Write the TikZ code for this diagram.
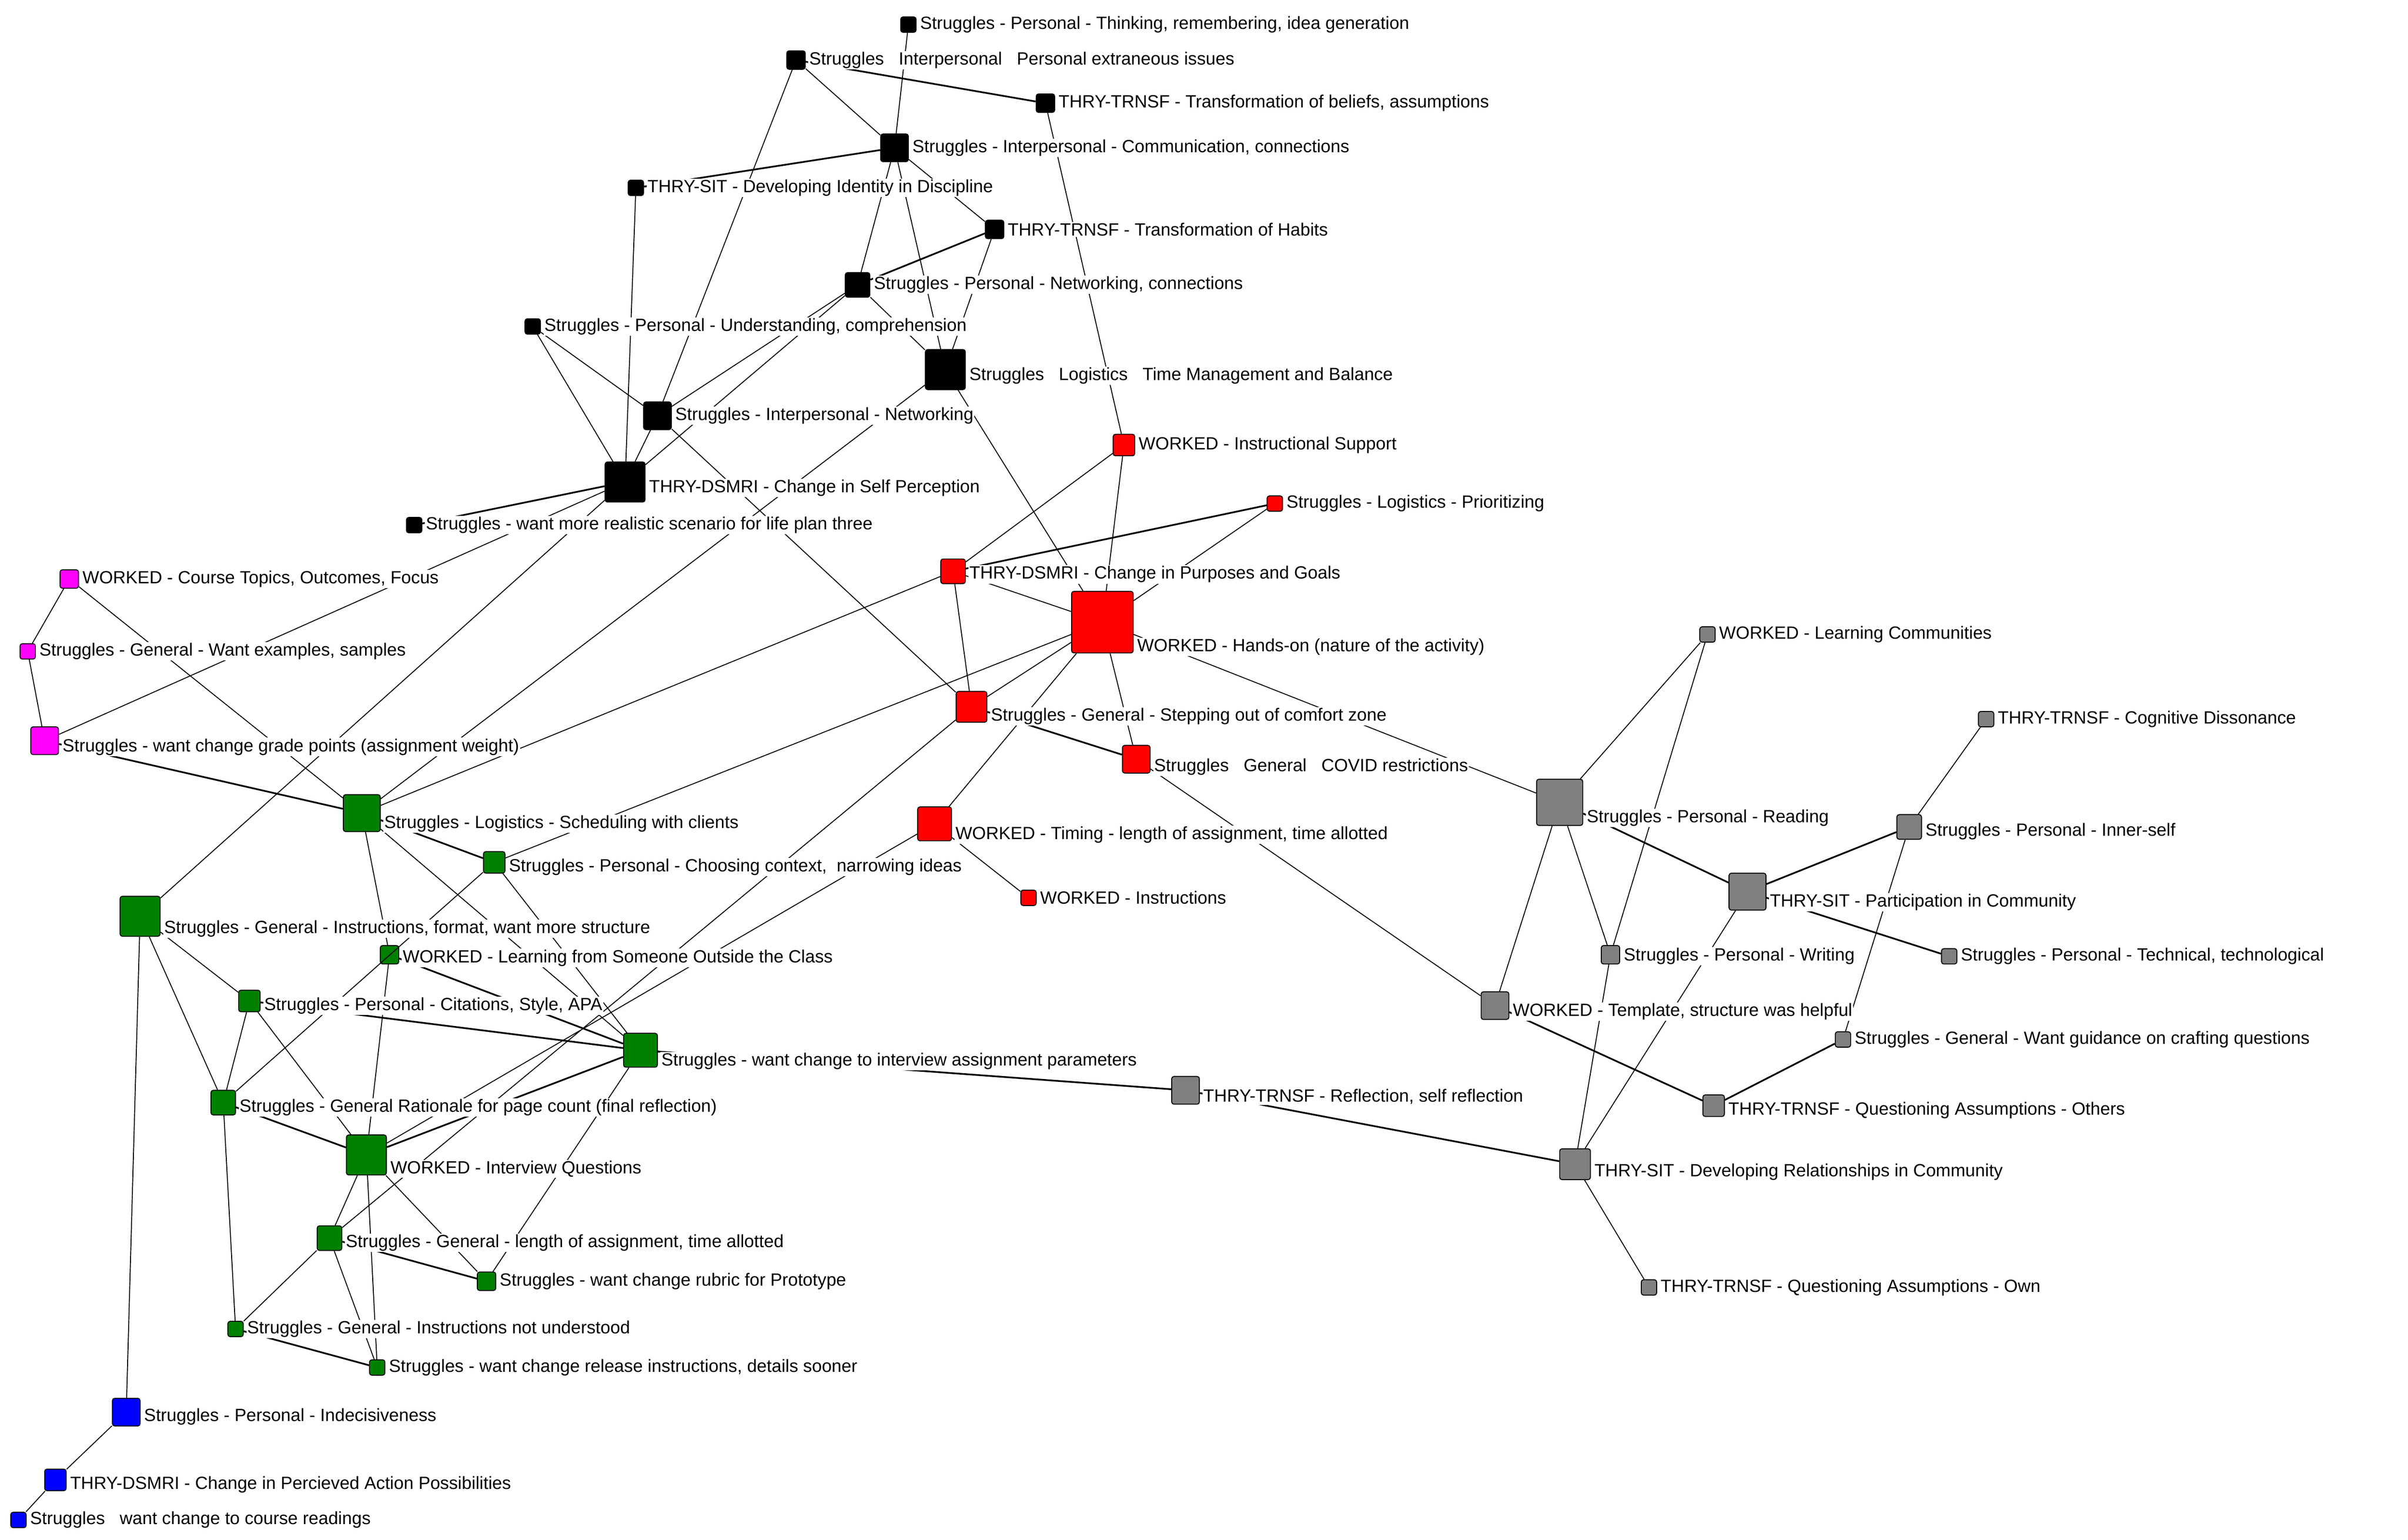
\documentclass[tikz,border=0pt]{standalone}
\usepackage{fontspec}
\setmainfont{Liberation Sans}
\definecolor{cblk}{RGB}{0,0,0}
\definecolor{cred}{RGB}{255,0,0}
\definecolor{cmag}{RGB}{255,0,255}
\definecolor{cgrn}{RGB}{0,128,0}
\definecolor{cblu}{RGB}{0,0,255}
\definecolor{cgry}{RGB}{128,128,128}
\begin{document}
\begin{tikzpicture}[x=1pt,y=-1pt,
  sq/.style={draw=black,line width=0.6pt,rounded corners=1.5pt,minimum size=#1,inner sep=0pt},
  lab/.style={anchor=west,fill=white,inner sep=0.6pt,font=\fontsize{11.5}{13}\selectfont},
  ed/.style={line width=0.6pt},
  hv/.style={line width=1.1pt}]
\useasboundingbox[fill=white] (0,0) rectangle (1564,1000);
% black
\node[sq=10pt,fill=cblk] (A1) at (590,16) {};
\node[sq=12pt,fill=cblk] (A2) at (517,39) {};
\node[sq=12pt,fill=cblk] (A3) at (679,67) {};
\node[sq=18pt,fill=cblk] (A4) at (581,96) {};
\node[sq=10pt,fill=cblk] (A5) at (413,122) {};
\node[sq=12pt,fill=cblk] (A6) at (646,149) {};
\node[sq=16pt,fill=cblk] (A7) at (557,185) {};
\node[sq=10pt,fill=cblk] (A8) at (346,212) {};
\node[sq=26pt,fill=cblk] (A9) at (614,240) {};
\node[sq=18pt,fill=cblk] (A10) at (427,270) {};
\node[sq=26pt,fill=cblk] (A11) at (406,313) {};
\node[sq=10pt,fill=cblk] (A12) at (269,341) {};
% red
\node[sq=14pt,fill=cred] (R1) at (730,289) {};
\node[sq=10pt,fill=cred] (R2) at (828,327) {};
\node[sq=16pt,fill=cred] (R3) at (619,371) {};
\node[sq=40pt,fill=cred] (R4) at (716,404) {};
\node[sq=20pt,fill=cred] (R5) at (631,459) {};
\node[sq=18pt,fill=cred] (R6) at (738,493) {};
\node[sq=22pt,fill=cred] (R7) at (607,535) {};
\node[sq=10pt,fill=cred] (R8) at (668,583) {};
% magenta
\node[sq=12pt,fill=cmag] (M1) at (45,376) {};
\node[sq=10pt,fill=cmag] (M2) at (18,423) {};
\node[sq=18pt,fill=cmag] (M3) at (29,481) {};
% green
\node[sq=24pt,fill=cgrn] (G1) at (235,528) {};
\node[sq=14pt,fill=cgrn] (G2) at (321,560) {};
\node[sq=26pt,fill=cgrn] (G3) at (91,595) {};
\node[sq=12pt,fill=cgrn] (G4) at (253,620) {};
\node[sq=14pt,fill=cgrn] (G5) at (162,650) {};
\node[sq=22pt,fill=cgrn] (G6) at (416,682) {};
\node[sq=16pt,fill=cgrn] (G7) at (145,716) {};
\node[sq=26pt,fill=cgrn] (G8) at (238,750) {};
\node[sq=16pt,fill=cgrn] (G9) at (214,804) {};
\node[sq=12pt,fill=cgrn] (G10) at (316,832) {};
\node[sq=10pt,fill=cgrn] (G11) at (153,863) {};
\node[sq=10pt,fill=cgrn] (G12) at (245,888) {};
% blue
\node[sq=18pt,fill=cblu] (B1) at (82,917) {};
\node[sq=14pt,fill=cblu] (B2) at (36,961) {};
\node[sq=10pt,fill=cblu] (B3) at (12,987) {};
% gray
\node[sq=10pt,fill=cgry] (Y1) at (1109,412) {};
\node[sq=10pt,fill=cgry] (Y2) at (1290,467) {};
\node[sq=30pt,fill=cgry] (Y3) at (1013,521) {};
\node[sq=16pt,fill=cgry] (Y4) at (1240,537) {};
\node[sq=24pt,fill=cgry] (Y5) at (1135,579) {};
\node[sq=12pt,fill=cgry] (Y6) at (1046,620) {};
\node[sq=10pt,fill=cgry] (Y7) at (1266,621) {};
\node[sq=18pt,fill=cgry] (Y8) at (971,653) {};
\node[sq=10pt,fill=cgry] (Y9) at (1197,675) {};
\node[sq=18pt,fill=cgry] (Y10) at (770,708) {};
\node[sq=14pt,fill=cgry] (Y11) at (1113,718) {};
\node[sq=20pt,fill=cgry] (Y12) at (1023,756) {};
\node[sq=10pt,fill=cgry] (Y13) at (1071,836) {};
% edges
\draw[ed] (A1)--(A4);
\draw[ed] (A2)--(A4); \draw[hv] (A2)--(A3); \draw[ed] (A2)--(A10);
\draw[hv] (A4)--(A5); \draw[ed] (A4)--(A7); \draw[ed] (A4)--(A9); \draw[ed] (A4)--(A6);
\draw[ed] (A3)--(R1); \draw[ed] (A5)--(A11);
\draw[hv] (A6)--(A7); \draw[ed] (A6)--(A9);
\draw[ed] (A7)--(A10); \draw[ed] (A7)--(A11); \draw[ed] (A7)--(A9);
\draw[ed] (A8)--(A10); \draw[ed] (A8)--(A11);
\draw[ed] (A9)--(R4); \draw[ed] (A9)--(G1);
\draw[ed] (A10)--(A11); \draw[ed] (A10)--(R5);
\draw[hv] (A11)--(A12); \draw[ed] (A11)--(M3); \draw[ed] (A11)--(G3);
\draw[ed] (R1)--(R3); \draw[ed] (R1)--(R4);
\draw[hv] (R2)--(R3); \draw[ed] (R2)--(R4);
\draw[ed] (R3)--(R4); \draw[ed] (R3)--(R5); \draw[ed] (R3)--(G1);
\draw[ed] (R4)--(Y3); \draw[ed] (R4)--(R5); \draw[ed] (R4)--(R6); \draw[ed] (R4)--(G2); \draw[ed] (R4)--(R7);
\draw[hv] (R5)--(R6); \draw[ed] (R5)--(G9);
\draw[ed] (R6)--(Y8); \draw[ed] (R7)--(R8); \draw[ed] (R7)--(G8);
\draw[ed] (M1)--(M2); \draw[ed] (M1)--(G1); \draw[ed] (M2)--(M3); \draw[hv] (M3)--(G1);
\draw[hv] (G1)--(G2); \draw[ed] (G1)--(G4); \draw[ed] (G1)--(G6);
\draw[ed] (G2)--(G6); \draw[ed] (G2)--(G7);
\draw[ed] (G3)--(G5); \draw[ed] (G3)--(G7); \draw[ed] (G3)--(B1);
\draw[ed] (G5)--(G7); \draw[ed] (G5)--(G8); \draw[hv] (G5)--(G6);
\draw[ed] (G4)--(G8); \draw[hv] (G4)--(G6);
\draw[hv] (G6)--(G8); \draw[hv] (G6)--(Y10); \draw[ed] (G10)--(G6);
\draw[hv] (G7)--(G8); \draw[ed] (G7)--(G11);
\draw[ed] (G8)--(G9); \draw[ed] (G8)--(G12); \draw[ed] (G8)--(G10);
\draw[hv] (G9)--(G10); \draw[ed] (G9)--(G11); \draw[ed] (G9)--(G12); \draw[hv] (G11)--(G12);
\draw[ed] (B1)--(B2); \draw[ed] (B2)--(B3);
\draw[ed] (Y1)--(Y3); \draw[ed] (Y1)--(Y6);
\draw[hv] (Y3)--(Y5); \draw[ed] (Y3)--(Y6); \draw[ed] (Y3)--(Y8);
\draw[hv] (Y8)--(Y11);
\draw[ed] (Y12)--(Y6); \draw[ed] (Y12)--(Y5); \draw[hv] (Y12)--(Y10); \draw[ed] (Y12)--(Y13);
\draw[hv] (Y5)--(Y4); \draw[hv] (Y5)--(Y7); \draw[ed] (Y4)--(Y2); \draw[ed] (Y4)--(Y9); \draw[hv] (Y9)--(Y11);
% labels
\node[lab] (A1l) at ([xshift=1.5pt]A1.east) {Struggles - Personal - Thinking, remembering, idea generation};
\node[lab] (A2l) at ([xshift=1.5pt]A2.east) {Struggles \ \ Interpersonal \ \ Personal extraneous issues};
\node[lab] (A3l) at ([xshift=1.5pt]A3.east) {THRY-TRNSF - Transformation of beliefs, assumptions};
\node[lab] (A4l) at ([xshift=1.5pt]A4.east) {Struggles - Interpersonal - Communication, connections};
\node[lab] (A5l) at ([xshift=1.5pt]A5.east) {THRY-SIT - Developing Identity in Discipline};
\node[lab] (A6l) at ([xshift=1.5pt]A6.east) {THRY-TRNSF - Transformation of Habits};
\node[lab] (A7l) at ([xshift=1.5pt]A7.east) {Struggles - Personal - Networking, connections};
\node[lab] (A8l) at ([xshift=1.5pt]A8.east) {Struggles - Personal - Understanding, comprehension};
\node[lab] (A9l) at ([xshift=1.5pt,yshift=-4pt]A9.east) {Struggles \ \ Logistics \ \ Time Management and Balance};
\node[lab] (A10l) at ([xshift=1.5pt]A10.east) {Struggles - Interpersonal - Networking};
\node[lab] (A11l) at ([xshift=1.5pt,yshift=-4pt]A11.east) {THRY-DSMRI - Change in Self Perception};
\node[lab] (A12l) at ([xshift=1.5pt]A12.east) {Struggles - want more realistic scenario for life plan three};
\node[lab] (R1l) at ([xshift=1.5pt]R1.east) {WORKED - Instructional Support};
\node[lab] (R2l) at ([xshift=1.5pt]R2.east) {Struggles - Logistics - Prioritizing};
\node[lab] (R3l) at ([xshift=1.5pt,yshift=-2pt]R3.east) {THRY-DSMRI - Change in Purposes and Goals};
\node[lab] (R4l) at ([xshift=1.5pt,yshift=-16pt]R4.east) {WORKED - Hands-on (nature of the activity)};
\node[lab] (R5l) at ([xshift=1.5pt,yshift=-6pt]R5.east) {Struggles - General - Stepping out of comfort zone};
\node[lab] (R6l) at ([xshift=1.5pt,yshift=-5pt]R6.east) {Struggles \ \ General \ \ COVID restrictions};
\node[lab] (R7l) at ([xshift=1.5pt,yshift=-7pt]R7.east) {WORKED - Timing - length of assignment, time allotted};
\node[lab] (R8l) at ([xshift=1.5pt]R8.east) {WORKED - Instructions};
\node[lab] (M1l) at ([xshift=1.5pt]M1.east) {WORKED - Course Topics, Outcomes, Focus};
\node[lab] (M2l) at ([xshift=1.5pt]M2.east) {Struggles - General - Want examples, samples};
\node[lab] (M3l) at ([xshift=1.5pt,yshift=-4pt]M3.east) {Struggles - want change grade points (assignment weight)};
\node[lab] (G1l) at ([xshift=1.5pt,yshift=-7pt]G1.east) {Struggles - Logistics - Scheduling with clients};
\node[lab] (G2l) at ([xshift=1.5pt,yshift=-3pt]G2.east) {Struggles - Personal - Choosing context, \ narrowing ideas};
\node[lab] (G3l) at ([xshift=1.5pt,yshift=-8pt]G3.east) {Struggles - General - Instructions, format, want more structure};
\node[lab] (G4l) at ([xshift=1.5pt,yshift=-2pt]G4.east) {WORKED - Learning from Someone Outside the Class};
\node[lab] (G5l) at ([xshift=1.5pt,yshift=-3pt]G5.east) {Struggles - Personal - Citations, Style, APA};
\node[lab] (G6l) at ([xshift=1.5pt,yshift=-7pt]G6.east) {Struggles - want change to interview assignment parameters};
\node[lab] (G7l) at ([xshift=1.5pt,yshift=-3pt]G7.east) {Struggles - General Rationale for page count (final reflection)};
\node[lab] (G8l) at ([xshift=1.5pt,yshift=-9pt]G8.east) {WORKED - Interview Questions};
\node[lab] (G9l) at ([xshift=1.5pt,yshift=-3pt]G9.east) {Struggles - General - length of assignment, time allotted};
\node[lab] (G10l) at ([xshift=1.5pt]G10.east) {Struggles - want change rubric for Prototype};
\node[lab] (G11l) at ([xshift=1.5pt]G11.east) {Struggles - General - Instructions not understood};
\node[lab] (G12l) at ([xshift=1.5pt]G12.east) {Struggles - want change release instructions, details sooner};
\node[lab] (B1l) at ([xshift=1.5pt,yshift=-3pt]B1.east) {Struggles - Personal - Indecisiveness};
\node[lab] (B2l) at ([xshift=1.5pt,yshift=-3pt]B2.east) {THRY-DSMRI - Change in Percieved Action Possibilities};
\node[lab] (B3l) at ([xshift=1.5pt]B3.east) {Struggles \ \ want change to course readings};
\node[lab] (Y1l) at ([xshift=1.5pt]Y1.east) {WORKED - Learning Communities};
\node[lab] (Y2l) at ([xshift=1.5pt]Y2.east) {THRY-TRNSF - Cognitive Dissonance};
\node[lab] (Y3l) at ([xshift=1.5pt,yshift=-10pt]Y3.east) {Struggles - Personal - Reading};
\node[lab] (Y4l) at ([xshift=1.5pt,yshift=-3pt]Y4.east) {Struggles - Personal - Inner-self};
\node[lab] (Y5l) at ([xshift=1.5pt,yshift=-7pt]Y5.east) {THRY-SIT - Participation in Community};
\node[lab] (Y6l) at ([xshift=1.5pt,yshift=-1pt]Y6.east) {Struggles - Personal - Writing};
\node[lab] (Y7l) at ([xshift=1.5pt]Y7.east) {Struggles - Personal - Technical, technological};
\node[lab] (Y8l) at ([xshift=1.5pt,yshift=-4pt]Y8.east) {WORKED - Template, structure was helpful};
\node[lab] (Y9l) at ([xshift=1.5pt]Y9.east) {Struggles - General - Want guidance on crafting questions};
\node[lab] (Y10l) at ([xshift=1.5pt,yshift=-4pt]Y10.east) {THRY-TRNSF - Reflection, self reflection};
\node[lab] (Y11l) at ([xshift=1.5pt,yshift=-3pt]Y11.east) {THRY-TRNSF - Questioning Assumptions - Others};
\node[lab] (Y12l) at ([xshift=1.5pt,yshift=-5pt]Y12.east) {THRY-SIT - Developing Relationships in Community};
\node[lab] (Y13l) at ([xshift=1.5pt]Y13.east) {THRY-TRNSF - Questioning Assumptions - Own};
\end{tikzpicture}
\end{document}
